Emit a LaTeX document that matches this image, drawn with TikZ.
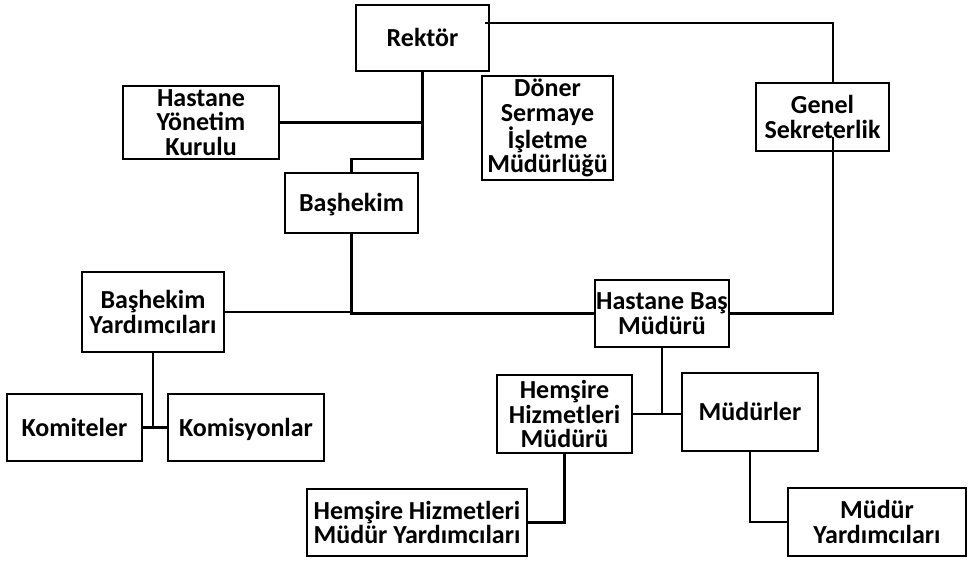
\documentclass[tikz,border=0pt]{standalone}
\usepackage{fontspec}
\setmainfont{Carlito}
\usepackage{tikz}

\tikzset{
	box/.style={draw, line width=2.2pt, align=center, inner sep=0pt, font=\bfseries\fontsize{26}{24.5}\selectfont},
	single/.style={text height=19pt, text depth=2pt},
	link/.style={line width=2.2pt}
}

\begin{document}
\begin{tikzpicture}[x=1pt, y=-1pt]
		\useasboundingbox (0, 0) rectangle (970, 566);
		\node[box, single, minimum width=133pt, minimum height=66pt] (rektor) at (422.5, 38) {Rektör};
		\node[box, minimum width=156pt, minimum height=73pt] (hyk) at (201, 122.5) {Hastane\\Yönetim\\Kurulu};
		\node[box, minimum width=131pt, minimum height=104pt] (doner) at (547.5, 128) {Döner\\Sermaye\\İşletme\\Müdürlüğü};
		\node[box, minimum width=133pt, minimum height=68pt] (genel) at (822.5, 117) {Genel\\Sekreterlik};
		\node[box, single, minimum width=133pt, minimum height=60pt] (bashekim) at (351.5, 203) {Başhekim};
		\node[box, minimum width=142pt, minimum height=80pt] (byard) at (153, 312) {Başhekim\\Yardımcıları};
		\node[box, minimum width=134pt, minimum height=67pt] (hbm) at (662, 313.5) {Hastane Baş\\Müdürü};
		\node[box, single, minimum width=135pt, minimum height=67pt] (komite) at (74.5, 427.5) {Komiteler};
		\node[box, single, minimum width=156pt, minimum height=67pt] (komisyon) at (246, 427.5) {Komisyonlar};
		\node[box, minimum width=135pt, minimum height=78pt] (hhm) at (564.5, 414) {Hemşire\\Hizmetleri\\Müdürü};
		\node[box, single, minimum width=136pt, minimum height=78pt] (mudurler) at (750, 412) {Müdürler};
		\node[box, minimum width=220pt, minimum height=67pt] (hhmy) at (417, 522.5) {Hemşire Hizmetleri\\Müdür Yardımcıları};
		\node[box, minimum width=178pt, minimum height=68pt] (myard) at (877, 522) {Müdür\\Yardımcıları};
		\coordinate (rout) at (485, 23);
		\coordinate (gtop) at (833, 83);
		\coordinate (gin) at (833, 137);
		\draw[link]
			(rout) -| (gtop)
			(gin) |- (hbm.east)
			(rektor.south) -- ++(0, 87) -| (bashekim.north)
			(hyk.east) -- (hyk.east -| rektor.south)
			(byard.east) -| (bashekim.south)
			(bashekim.south) |- (hbm.west)
			(byard.south) -- (byard.south |- komite.east)
			(komite.east) -- (komisyon.west)
			(hbm.south) -- (hbm.south |- hhm.east)
			(hhm.east) -- (hhm.east -| mudurler.west)
			(hhm.south) |- (hhmy.east)
			(mudurler.south) |- (myard.west)
		;
	\end{tikzpicture}
\end{document}
